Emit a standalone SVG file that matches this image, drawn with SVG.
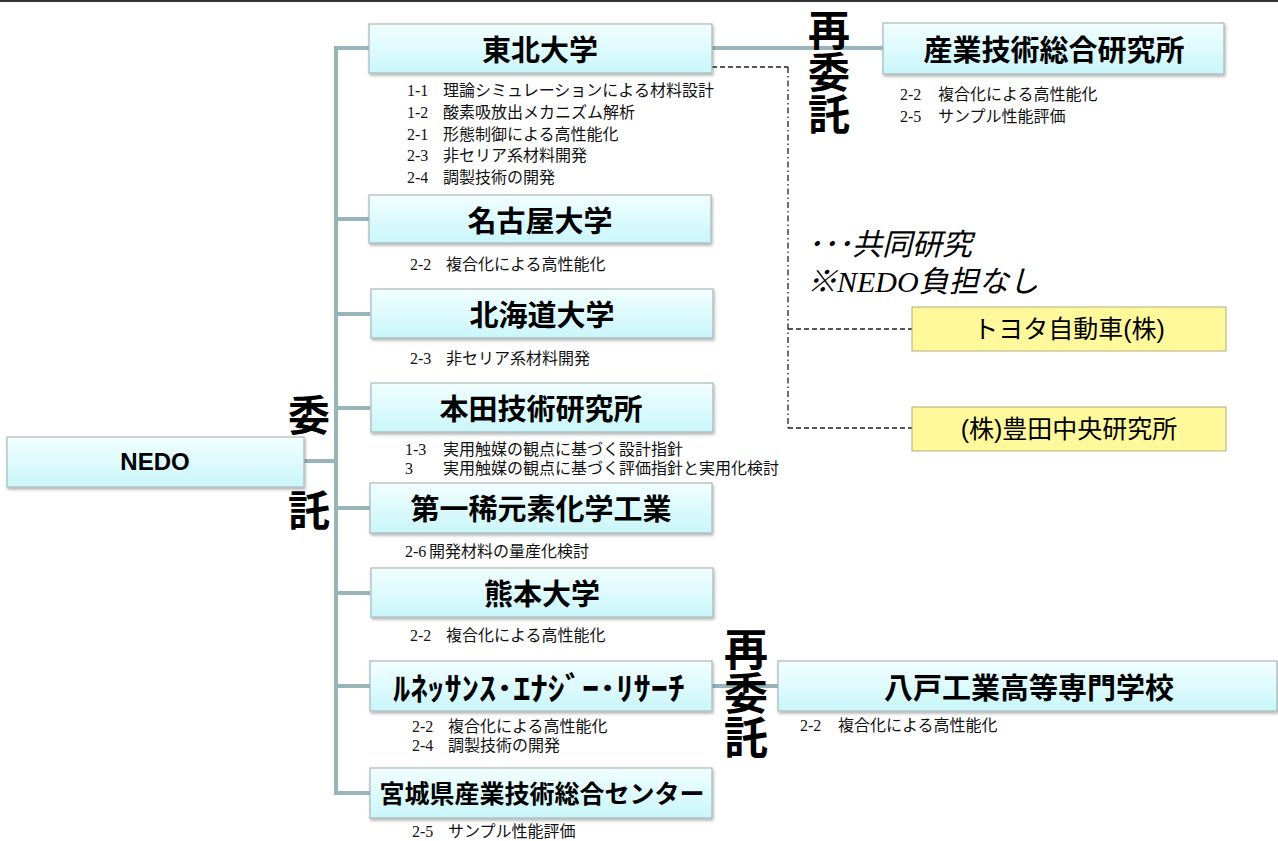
<svg xmlns="http://www.w3.org/2000/svg" width="1278" height="841" viewBox="0 0 1278 841">
<defs>
<linearGradient id="cy" x1="0" y1="0" x2="0" y2="1">
<stop offset="0" stop-color="#f2feff"/>
<stop offset="1" stop-color="#c9f6fa"/>
</linearGradient>
<filter id="sh" x="-5%" y="-20%" width="110%" height="150%">
<feDropShadow dx="1" dy="2" stdDeviation="1.5" flood-color="#000" flood-opacity="0.3"/>
</filter>
<style>
.box{fill:url(#cy);stroke:#a8b8ba;stroke-width:1.2;filter:url(#sh)}
.ybox{fill:#fff99c;stroke:#b0ad80;stroke-width:1}
.t{font-family:'Noto Sans CJK JP','Noto Sans',sans-serif;font-weight:bold;fill:#000;text-anchor:middle;dominant-baseline:central}
.ty{font-family:'Liberation Sans','Noto Sans CJK JP',sans-serif;font-size:25px;fill:#000;text-anchor:middle;dominant-baseline:central}
.s{font-family:'Liberation Serif','Noto Sans CJK JP',serif;font-size:16px;fill:#111}
.big{font-family:'Noto Sans CJK JP',sans-serif;font-weight:bold;font-size:42px;fill:#000;text-anchor:middle;dominant-baseline:central}
.vt{font-family:'Noto Sans CJK JP',sans-serif;font-weight:bold;fill:#000;writing-mode:vertical-rl;text-anchor:middle}
.leg{font-family:'Liberation Serif','Noto Sans CJK JP',serif;font-style:italic;font-size:30px;fill:#000}
.c{stroke:#98b6ba;stroke-width:4;fill:none}
.d{stroke:#222;stroke-width:1.3;fill:none;stroke-dasharray:5 3}
.dd{stroke:#222;stroke-width:1.3;fill:none;stroke-dasharray:6 3 1.5 3}
</style>
</defs>
<rect x="0" y="0" width="1278" height="841" fill="#fff"/>
<rect x="0" y="0" width="1278" height="2" fill="#333"/>

<g id="connectors">
<path class="c" d="M336 46 V795"/>
<path class="c" d="M336 48 H370 M336 219 H370 M336 314 H370 M336 408 H370 M336 508 H370 M336 593 H370 M336 686 H370 M336 793 H370"/>
<path class="c" d="M302 461 H336"/>
<path class="c" d="M712 48 H883"/>
<path class="c" d="M712 686 H778"/>
<path class="d" d="M712 67 H788"/>
<path class="dd" d="M788 67 V428"/>
<path class="d" d="M788 329 H912 M788 428 H912"/>
</g>

<g id="labels-itaku">
<text class="big" x="309" y="412">委</text>
<text class="big" x="309" y="507">託</text>
<text class="vt" x="829" y="72" font-size="42">再委託</text>
<text class="vt" x="746" y="693" font-size="44">再委託</text>
</g>

<g id="nedo">
<rect class="box" x="7" y="437" width="297" height="50"/>
<text x="155" y="470" font-family="'Liberation Sans',sans-serif" font-weight="bold" font-size="24" text-anchor="middle">NEDO</text>
</g>

<g id="tohoku">
<rect class="box" x="369" y="24" width="343" height="49"/>
<text class="t" x="540" y="48" font-size="29">東北大学</text>
<text class="s" y="96"><tspan x="407">1-1</tspan><tspan x="443">理論シミュレーションによる材料設計</tspan></text>
<text class="s" y="118"><tspan x="407">1-2</tspan><tspan x="443">酸素吸放出メカニズム解析</tspan></text>
<text class="s" y="140"><tspan x="407">2-1</tspan><tspan x="443">形態制御による高性能化</tspan></text>
<text class="s" y="161"><tspan x="407">2-3</tspan><tspan x="443">非セリア系材料開発</tspan></text>
<text class="s" y="183"><tspan x="407">2-4</tspan><tspan x="443">調製技術の開発</tspan></text>
</g>

<g id="aist">
<rect class="box" x="883" y="23" width="341" height="51"/>
<text class="t" x="1054" y="48" font-size="29">産業技術総合研究所</text>
<text class="s" y="100"><tspan x="900">2-2</tspan><tspan x="938">複合化による高性能化</tspan></text>
<text class="s" y="122"><tspan x="900">2-5</tspan><tspan x="938">サンプル性能評価</tspan></text>
</g>

<g id="nagoya">
<rect class="box" x="369" y="195" width="342" height="48"/>
<text class="t" x="540" y="219" font-size="29">名古屋大学</text>
<text class="s" y="270"><tspan x="410">2-2</tspan><tspan x="446">複合化による高性能化</tspan></text>
</g>

<g id="hokkaido">
<rect class="box" x="371" y="289" width="342" height="49"/>
<text class="t" x="542" y="313" font-size="29">北海道大学</text>
<text class="s" y="364"><tspan x="410">2-3</tspan><tspan x="446">非セリア系材料開発</tspan></text>
</g>

<g id="honda">
<rect class="box" x="371" y="383" width="342" height="49"/>
<text class="t" x="541" y="407" font-size="29">本田技術研究所</text>
<text class="s" y="455"><tspan x="405">1-3</tspan><tspan x="443">実用触媒の観点に基づく設計指針</tspan></text>
<text class="s" y="474"><tspan x="405">3</tspan><tspan x="443">実用触媒の観点に基づく評価指針と実用化検討</tspan></text>
</g>

<g id="daiichi">
<rect class="box" x="370" y="483" width="342" height="50"/>
<text class="t" x="541" y="507" font-size="29">第一稀元素化学工業</text>
<text class="s" y="557"><tspan x="405">2-6</tspan><tspan x="429">開発材料の量産化検討</tspan></text>
</g>

<g id="kumamoto">
<rect class="box" x="371" y="568" width="342" height="49"/>
<text class="t" x="542" y="592" font-size="29">熊本大学</text>
<text class="s" y="641"><tspan x="410">2-2</tspan><tspan x="446">複合化による高性能化</tspan></text>
</g>

<g id="renaissance">
<rect class="box" x="370" y="661" width="342" height="50"/>
<text class="t" x="539" y="686" font-size="32" textLength="292" lengthAdjust="spacingAndGlyphs">ﾙﾈｯｻﾝｽ･ｴﾅｼﾞｰ･ﾘｻｰﾁ</text>
<text class="s" y="732"><tspan x="412">2-2</tspan><tspan x="448">複合化による高性能化</tspan></text>
<text class="s" y="751"><tspan x="412">2-4</tspan><tspan x="448">調製技術の開発</tspan></text>
</g>

<g id="miyagi">
<rect class="box" x="370" y="768" width="342" height="50"/>
<text class="t" x="542" y="792" font-size="25">宮城県産業技術総合センター</text>
<text class="s" y="837"><tspan x="412">2-5</tspan><tspan x="448">サンプル性能評価</tspan></text>
</g>

<g id="hachinohe">
<rect class="box" x="778" y="661" width="499" height="50"/>
<text class="t" x="1029" y="686" font-size="29">八戸工業高等専門学校</text>
<text class="s" y="731"><tspan x="800">2-2</tspan><tspan x="838">複合化による高性能化</tspan></text>
</g>

<g id="legend">
<text class="leg" x="807" y="255">･･･共同研究</text>
<text class="leg" x="807" y="292">※NEDO負担なし</text>
</g>

<g id="toyota">
<rect class="ybox" x="912" y="307" width="314" height="44"/>
<text class="ty" x="1069" y="329">トヨタ自動車(株)</text>
</g>

<g id="toyota-crdl">
<rect class="ybox" x="912" y="407" width="314" height="44"/>
<text class="ty" x="1069" y="429">(株)豊田中央研究所</text>
</g>
</svg>
